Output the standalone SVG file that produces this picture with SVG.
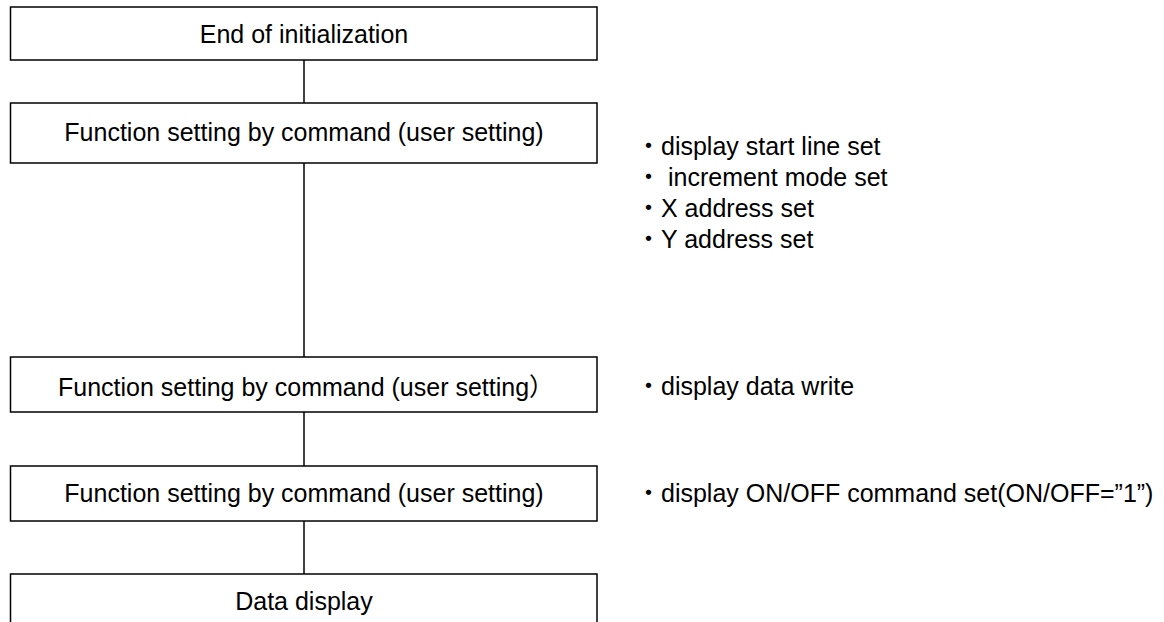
<svg xmlns="http://www.w3.org/2000/svg" width="1164" height="622" viewBox="0 0 1164 622">
<style>
.box{fill:#fff;stroke:#000;stroke-width:1.5}
.t{font-family:"Liberation Sans",Arial,"Noto Sans CJK JP",sans-serif;font-size:25px;fill:#000}
.c{text-anchor:middle}
.ln{stroke:#000;stroke-width:1.5;fill:none}
</style>
<rect width="1164" height="622" fill="#fff"/>
<g id="connectors">
<line class="ln" x1="304" y1="60" x2="304" y2="103"/>
<line class="ln" x1="304" y1="163" x2="304" y2="357"/>
<line class="ln" x1="304" y1="412" x2="304" y2="466"/>
<line class="ln" x1="304" y1="521" x2="304" y2="574"/>
</g>
<g id="n1"><rect class="box" x="10.5" y="7" width="586.5" height="53"/><text class="t c" x="304" y="43">End of initialization</text></g>
<g id="n2"><rect class="box" x="10.5" y="103" width="586.5" height="60"/><text class="t c" x="304" y="141">Function setting by command (user setting)</text></g>
<g id="n3"><rect class="box" x="10.5" y="357" width="586.5" height="55"/><text class="t" x="58" y="396">Function setting by command (user setting）</text></g>
<g id="n4"><rect class="box" x="10.5" y="466" width="586.5" height="55"/><text class="t c" x="304" y="502">Function setting by command (user setting)</text></g>
<g id="n5"><rect class="box" x="10.5" y="574" width="586.5" height="70"/><text class="t c" x="304" y="610">Data display</text></g>
<g id="notes" xml:space="preserve">
<text class="t" x="636" y="155">・display start line set</text>
<text class="t" x="636" y="186">・  increment mode set</text>
<text class="t" x="636" y="217">・X address set</text>
<text class="t" x="636" y="248">・Y address set</text>
<text class="t" x="636" y="395">・display data write</text>
<text class="t" x="636" y="502">・display ON/OFF command set(ON/OFF=”1”)</text>
</g>
</svg>
